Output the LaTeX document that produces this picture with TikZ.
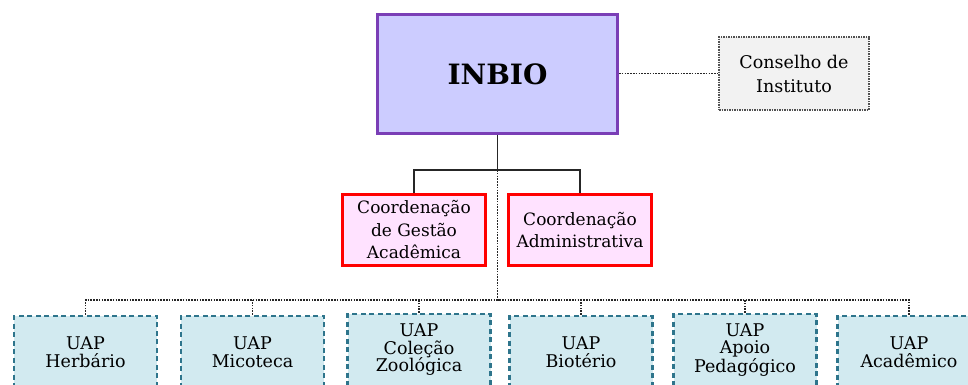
\documentclass[tikz,border=0pt]{standalone}
\usepackage{fontspec}
\setmainfont{DejaVu Serif}
\definecolor{inbiofill}{RGB}{204,204,255}
\definecolor{inbiodraw}{RGB}{122,62,182}
\definecolor{consfill}{RGB}{242,242,242}
\definecolor{consdraw}{RGB}{80,80,80}
\definecolor{coordfill}{RGB}{255,226,255}
\definecolor{coorddraw}{RGB}{255,0,0}
\definecolor{uapfill}{RGB}{210,234,240}
\definecolor{uapdraw}{RGB}{46,117,140}
\tikzset{
  inbiobox/.style={draw=inbiodraw, fill=inbiofill, line width=2.8pt, minimum width=240pt, minimum height=119pt, inner sep=0pt, font=\fontsize{28}{32}\selectfont\bfseries},
  consbox/.style={draw=consdraw, fill=consfill, line width=2pt, dash pattern=on 1.5pt off 1pt, minimum width=150pt, minimum height=73pt, inner sep=0pt, align=center, font=\fontsize{17.5}{24}\selectfont},
  coordbox/.style={draw=coorddraw, fill=coordfill, line width=2.8pt, minimum width=143pt, minimum height=71pt, inner sep=0pt, align=center, font=\fontsize{17}{22.5}\selectfont},
  uapbox/.style={draw=uapdraw, fill=uapfill, line width=2.5pt, dash pattern=on 5pt off 3.5pt, minimum width=143pt, minimum height=72pt, inner sep=0pt, align=center, font=\fontsize{17.5}{17.5}\selectfont},
  solidline/.style={draw=black!85, line width=1.5pt},
  dotline/.style={draw=black!85, line width=1.6pt, dash pattern=on 1.6pt off 1.2pt},
}
\begin{document}
\begin{tikzpicture}[x=1pt,y=-1pt]
\useasboundingbox (0,0) rectangle (968,385);
\clip (0,0) rectangle (968,385);
\node[inbiobox] (inbio) at (497.5,74) {INBIO};
\node[consbox] (cons) at (794,73.5) {Conselho de\\Instituto};
\node[coordbox] (gestao) at (414,230) {Coordenação\\de Gestão\\Acadêmica};
\node[coordbox] (admin) at (580,230) {Coordenação\\Administrativa};
\node[uapbox] (u1) at (85.5,352) {UAP\\Herbário};
\node[uapbox] (u2) at (252.5,352) {UAP\\Micoteca};
\node[uapbox] (u3) at (419,350) {UAP\\Coleção\\Zoológica};
\node[uapbox] (u4) at (581,352) {UAP\\Biotério};
\node[uapbox] (u5) at (745,350) {UAP\\Apoio\\Pedagógico};
\node[uapbox] (u6) at (909,352) {UAP\\Acadêmico};
% connectors
\draw[dotline] (inbio.east |- cons.west) -- (cons.west);
\coordinate (hub) at (497.5,170);
\coordinate (bus) at (497.5,300);
\draw[dotline] (hub) -- (bus);
\draw[dotline] (u1.north) |- (bus) -| (u6.north);
\foreach \u in {u2,u3,u4,u5}{
  \draw[dotline] (\u.north) -- (\u.north |- bus);
}
\draw[solidline] (inbio.south) -- (hub);
\draw[solidline] (gestao.north) |- (hub) -| (admin.north);
\end{tikzpicture}
\end{document}
